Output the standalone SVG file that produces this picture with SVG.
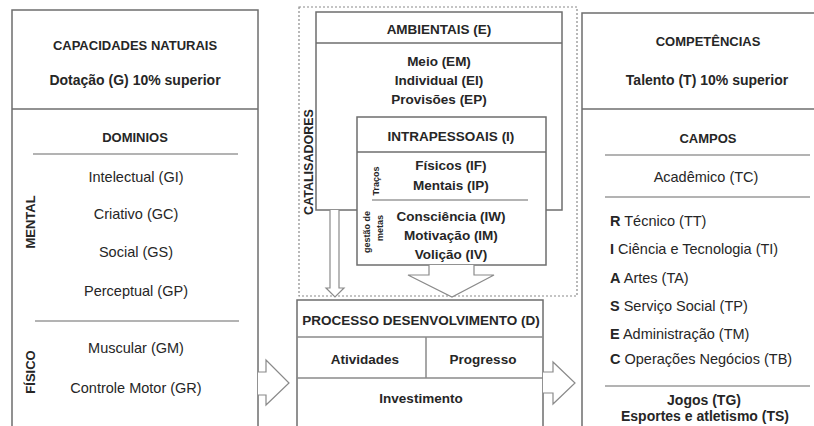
<svg xmlns="http://www.w3.org/2000/svg" width="814" height="426" viewBox="0 0 814 426">
<style>
text{font-family:"Liberation Sans",Arial,sans-serif;fill:#262626;}
.c{text-anchor:middle;}
.b{font-weight:bold;}
.h{font-size:13px;font-weight:bold;}
.r{font-size:14.5px;}
.m{font-size:13.5px;font-weight:bold;text-anchor:middle;}
.s{font-size:9px;font-weight:bold;text-anchor:middle;}
.box{fill:#fff;stroke:#6e6e6e;stroke-width:1.5;}
.ln{stroke:#9a9a9a;stroke-width:1.5;fill:none;}
.dot{fill:none;stroke:#8a8a8a;stroke-width:1.2;stroke-dasharray:2 2;}
.arr{fill:#fff;stroke:#8a8a8a;stroke-width:1.2;}
</style>
<rect x="0" y="0" width="814" height="426" fill="#fff"/>

<g id="capacidades">
<rect class="box" x="12" y="10" width="246" height="440"/>
<line x1="12" y1="109" x2="258" y2="109" stroke="#6e6e6e" stroke-width="1.5"/>
<text class="c h" x="135" y="50">CAPACIDADES NATURAIS</text>
<text class="c b" x="135" y="85" font-size="14">Dotação (G) 10% superior</text>
<text class="c h" x="135" y="142" font-size="13.5">DOMINIOS</text>
<line class="ln" x1="33" y1="154" x2="238" y2="154"/>
<text class="c r" x="136" y="182">Intelectual (GI)</text>
<text class="c r" x="136" y="219">Criativo (GC)</text>
<text class="c r" x="136" y="257">Social (GS)</text>
<text class="c r" x="136" y="296">Perceptual (GP)</text>
<line class="ln" x1="35" y1="321" x2="239" y2="321"/>
<text class="c r" x="136" y="353">Muscular (GM)</text>
<text class="c r" x="136" y="393">Controle Motor (GR)</text>
<text class="c b" font-size="13" transform="translate(35,222) rotate(-90)">MENTAL</text>
<text class="c b" font-size="13" transform="translate(35,372) rotate(-90)">FÍSICO</text>
</g>

<g id="catalisadores">
<rect class="dot" x="299" y="7" width="278" height="289"/>
<text class="c b" font-size="12.5" transform="translate(313,162) rotate(-90)">CATALISADORES</text>
</g>

<g id="ambientais">
<rect class="box" x="316" y="12" width="246" height="198"/>
<line x1="316" y1="43" x2="562" y2="43" stroke="#6e6e6e" stroke-width="1.5"/>
<text class="m" x="439" y="34">AMBIENTAIS (E)</text>
<text class="m" x="439" y="66">Meio (EM)</text>
<text class="m" x="439" y="85">Individual (EI)</text>
<text class="m" x="439" y="104">Provisões (EP)</text>
</g>

<g id="intrapessoais">
<rect class="box" x="357" y="117" width="189" height="148"/>
<line x1="357" y1="152" x2="546" y2="152" stroke="#6e6e6e" stroke-width="1.5"/>
<line class="ln" x1="372" y1="200" x2="528" y2="200"/>
<text class="m" x="451" y="141">INTRAPESSOAIS (I)</text>
<text class="m" x="451" y="170">Físicos (IF)</text>
<text class="m" x="451" y="190">Mentais (IP)</text>
<text class="m" x="451" y="221">Consciência (IW)</text>
<text class="m" x="451" y="240">Motivação (IM)</text>
<text class="m" x="451" y="259">Volição (IV)</text>
<text class="s" font-size="9.5" transform="translate(379,181) rotate(-90)">Traços</text>
<text class="s" transform="translate(370,232) rotate(-90)">gestão de</text>
<text class="s" transform="translate(383,228) rotate(-90)">metas</text>
</g>

<g id="processo">
<rect class="box" x="297" y="300" width="246" height="150"/>
<line x1="297" y1="337" x2="543" y2="337" stroke="#8a8a8a" stroke-width="1.5"/>
<line x1="297" y1="378" x2="543" y2="378" stroke="#8a8a8a" stroke-width="1.5"/>
<line x1="426" y1="337" x2="426" y2="378" stroke="#8a8a8a" stroke-width="1.5"/>
<text class="m" x="421" y="325" font-size="13">PROCESSO DESENVOLVIMENTO (D)</text>
<text class="m" x="365" y="364">Atividades</text>
<text class="m" x="483" y="364">Progresso</text>
<text class="m" x="421" y="403">Investimento</text>
</g>

<g id="competencias">
<rect class="box" x="582" y="13" width="250" height="440"/>
<line x1="582" y1="109" x2="814" y2="109" stroke="#6e6e6e" stroke-width="1.5"/>
<text class="c h" x="708" y="46">COMPETÊNCIAS</text>
<text class="c b" x="707" y="85" font-size="14">Talento (T) 10% superior</text>
<text class="c h" x="708" y="143">CAMPOS</text>
<line class="ln" x1="605" y1="155" x2="810" y2="155"/>
<text class="c r" x="706" y="182">Acadêmico (TC)</text>
<line class="ln" x1="605" y1="197" x2="810" y2="197"/>
<text class="r" x="610" y="226"><tspan class="b">R</tspan> Técnico (TT)</text>
<text class="r" x="610" y="254"><tspan class="b">I</tspan> Ciência e Tecnologia (TI)</text>
<text class="r" x="610" y="283"><tspan class="b">A</tspan> Artes (TA)</text>
<text class="r" x="610" y="311"><tspan class="b">S</tspan> Serviço Social (TP)</text>
<text class="r" x="610" y="339"><tspan class="b">E</tspan> Administração (TM)</text>
<text class="r" x="610" y="364"><tspan class="b">C</tspan> Operações Negócios (TB)</text>
<line class="ln" x1="605" y1="386" x2="810" y2="386"/>
<text class="c b" font-size="14" x="704" y="405">Jogos (TG)</text>
<text class="c b" font-size="14" x="705" y="421">Esportes e atletismo (TS)</text>
</g>

<g id="connectors">
<path class="arr" d="M258,372 H266 V360 L289,383 L266,405 V395 H258"/>
<path class="arr" d="M543,372 H553 V362 L575,383 L553,404 V393 H543"/>
<path class="arr" d="M429,265 V275 H408 L452,297 L494,275 H474 V265"/>
<path class="arr" d="M330,210 V288 H326 L335,297 L344,288 H339 V210"/>
</g>
</svg>
